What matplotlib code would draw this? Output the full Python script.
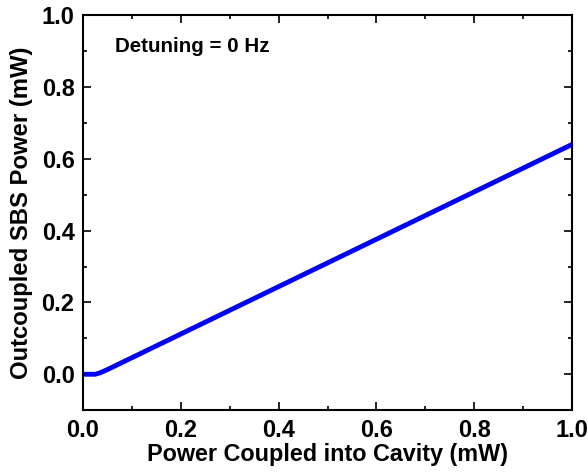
import numpy as np
import matplotlib
matplotlib.use('Agg')
import matplotlib.pyplot as plt
from matplotlib.ticker import MultipleLocator, FormatStrFormatter

plt.rcParams['font.family'] = ['Liberation Sans', 'DejaVu Sans']
plt.rcParams['font.weight'] = 'bold'

# input power coupled into cavity (mW) vs outcoupled SBS power (mW)
p_in = [0.0, 0.025, 0.035, 0.05, 1.0]
p_sbs = [0.0, 0.0, 0.004, 0.013, 0.64]

fig = plt.figure(figsize=(5.88, 4.72), dpi=100)
ax = fig.add_axes([0.141, 0.131, 0.832, 0.837])
ax.plot(p_in, p_sbs, color=(0, 0, 1), lw=3.5, solid_capstyle='butt')

ax.set_xlim(0, 1.0)
ax.set_ylim(-0.1, 1.0)
ax.xaxis.set_minor_locator(MultipleLocator(0.1))
ax.yaxis.set_minor_locator(MultipleLocator(0.1))
ax.set_xticks(np.arange(0, 1.01, 0.2))
ax.set_yticks(np.arange(0, 1.01, 0.2))
ax.tick_params(which='both', direction='in', top=True, right=True, width=1.2)
ax.tick_params(which='major', length=6, labelsize=17, pad=6)
ax.tick_params(which='minor', length=3)
for s in ax.spines.values():
    s.set_linewidth(1.5)
ax.xaxis.set_major_formatter(FormatStrFormatter('%.1f'))
ax.yaxis.set_major_formatter(FormatStrFormatter('%.1f'))

ax.set_xlabel('Power Coupled into Cavity (mW)', fontsize=16.8, fontweight='bold', labelpad=1)
ax.set_ylabel('Outcoupled SBS Power (mW)', fontsize=17.2, fontweight='bold', labelpad=6)
ax.text(0.065, 0.912, 'Detuning = 0 Hz', fontsize=14.8, fontweight='bold', va='center')

fig.savefig('out.png', dpi=100)
